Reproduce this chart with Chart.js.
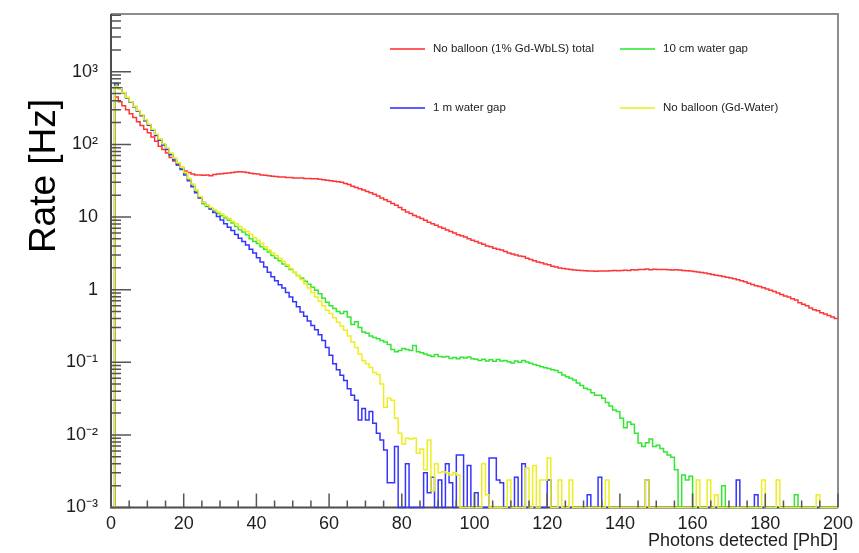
<!DOCTYPE html>
<html>
<head>
<meta charset="utf-8">
<script src="https://cdn.jsdelivr.net/npm/chart.js@4.4.1/dist/chart.umd.min.js"></script>
<style>
  html, body { margin: 0; padding: 0; background: #fff; }
  #wrap { width: 859px; height: 553px; position: relative; }
</style>
</head>
<body>
<div id="wrap"><canvas id="myChart"></canvas></div>
<script>
// Rate per 1 PhD bin, bins 0..199 (0 = empty bin)
const seriesNames = ['No balloon (1% Gd-WbLS) total', '10 cm water gap', '1 m water gap', 'No balloon (Gd-Water)'];

const noBalloonTotal = [
  0, 450, 385, 340, 300, 265, 235, 205, 182, 162,
  145, 126, 110, 94, 85, 76, 66, 59, 52, 48,
  43, 41, 39, 38, 38, 37.5, 38, 37, 38.5, 39,
  39.5, 40, 40.5, 41, 41.5, 42, 41.5, 41, 40, 39.5,
  39, 38, 37.5, 37, 36.5, 36, 35.5, 35.5, 35, 35,
  34.5, 34.5, 34.5, 34, 34, 33.5, 33.5, 33, 32.5, 32,
  31.5, 31, 30.5, 30, 29, 28, 26.5, 25.5, 24.5, 23.5,
  22.5, 21.5, 20.5, 19.5, 18.3, 17.3, 16.3, 15.4, 14.5, 13.5,
  12.6, 11.7, 11.2, 10.5, 10, 9.5, 9, 8.5, 8.1, 7.7,
  7.3, 7, 6.6, 6.3, 6, 5.7, 5.5, 5.3, 5, 4.8,
  4.6, 4.4, 4.2, 4, 3.9, 3.7, 3.6, 3.5, 3.35, 3.2,
  3.1, 3, 2.9, 2.85, 2.7, 2.6, 2.5, 2.4, 2.35, 2.25,
  2.2, 2.1, 2.05, 1.98, 1.95, 1.92, 1.9, 1.87, 1.85, 1.83,
  1.82, 1.8, 1.81, 1.79, 1.8, 1.81, 1.8, 1.82, 1.83, 1.82,
  1.84, 1.85, 1.83, 1.88, 1.87, 1.9, 1.89, 1.92, 1.88, 1.91,
  1.9, 1.89, 1.9, 1.88, 1.87, 1.88, 1.86, 1.83, 1.82, 1.8,
  1.78, 1.75, 1.72, 1.7, 1.66, 1.62, 1.58, 1.55, 1.52, 1.48,
  1.44, 1.41, 1.37, 1.33, 1.28, 1.22, 1.18, 1.13, 1.1, 1.06,
  1.02, 0.98, 0.94, 0.9, 0.86, 0.82, 0.79, 0.75, 0.72, 0.66,
  0.63, 0.6, 0.56, 0.53, 0.51, 0.48, 0.46, 0.44, 0.42, 0.4
];

const waterGap10cm = [
  0, 650, 585, 510, 437, 380, 331, 288, 251, 214,
  186, 158, 135, 117, 100, 87, 74, 63, 54, 47,
  40, 33, 27.5, 22.5, 18.5, 15.2, 14, 13, 12.1, 11.2,
  10.4, 9.7, 9, 8.3, 7.4, 6.7, 6.2, 5.7, 5, 4.6,
  4.3, 3.9, 3.6, 3.3, 2.95, 2.7, 2.5, 2.25, 2.1, 1.9,
  1.72, 1.57, 1.45, 1.3, 1.19, 1.08, 0.98, 0.88, 0.76, 0.67,
  0.6, 0.55, 0.5, 0.47, 0.5, 0.42, 0.33, 0.36, 0.3, 0.26,
  0.25, 0.23, 0.22, 0.21, 0.2, 0.19, 0.175, 0.15, 0.14, 0.145,
  0.155, 0.15, 0.145, 0.17, 0.14, 0.135, 0.13, 0.125, 0.12, 0.128,
  0.12, 0.118, 0.12, 0.113, 0.116, 0.112, 0.117, 0.114, 0.118, 0.112,
  0.11, 0.106, 0.11, 0.104, 0.108, 0.103, 0.109, 0.104, 0.106, 0.102,
  0.098, 0.104, 0.1, 0.106, 0.101, 0.097, 0.093, 0.09, 0.087, 0.084,
  0.082, 0.079, 0.077, 0.072, 0.067, 0.063, 0.06, 0.057, 0.052, 0.048,
  0.044, 0.042, 0.038, 0.035, 0.035, 0.032, 0.028, 0.025, 0.022, 0.021,
  0.017, 0.0125, 0.015, 0.014, 0.0105, 0.0077, 0.0069, 0.0078, 0.0088, 0.0069,
  0.0072, 0.0065, 0.0058, 0.0053, 0.0049, 0.0033, 0.0008, 0.0028, 0.0024, 0.0027,
  0.0008, 0, 0, 0, 0, 0, 0, 0, 0.002, 0,
  0, 0, 0, 0, 0, 0, 0, 0, 0, 0,
  0, 0, 0, 0, 0, 0, 0, 0, 0.0015, 0,
  0, 0, 0, 0, 0, 0, 0, 0, 0, 0
];

const waterGap1m = [
  0, 690, 600, 515, 440, 380, 330, 285, 248, 211,
  183, 156, 133, 114, 98, 85, 72, 61, 52, 45,
  38, 31.5, 26, 21.5, 18.2, 15.8, 14.4, 12.9, 11.5, 10.2,
  9.1, 8.1, 7.2, 6.5, 5.75, 5.1, 4.6, 4.1, 3.6, 3.2,
  2.75, 2.4, 2.05, 1.74, 1.5, 1.32, 1.17, 1.05, 0.91, 0.79,
  0.68, 0.58, 0.49, 0.43, 0.37, 0.32, 0.28, 0.24, 0.2, 0.16,
  0.125, 0.095, 0.079, 0.066, 0.056, 0.043, 0.035, 0.03, 0.016, 0.023,
  0.016, 0.021, 0.0145, 0.0105, 0.0085, 0.0062, 0.0022, 0.0022, 0.0069, 0.0008,
  0, 0.004, 0.0008, 0.0008, 0, 0, 0.003, 0.0016, 0.0026, 0,
  0.0024, 0, 0.004, 0.0022, 0, 0.0053, 0.0053, 0, 0.0038, 0,
  0.0016, 0, 0, 0, 0.0048, 0.0048, 0.0024, 0.0022, 0, 0,
  0, 0.0026, 0, 0.004, 0, 0, 0, 0, 0, 0,
  0.0024, 0, 0, 0, 0, 0, 0, 0, 0, 0,
  0, 0.0015, 0, 0, 0.0026, 0, 0, 0, 0, 0,
  0, 0, 0, 0, 0, 0, 0, 0.0024, 0, 0,
  0, 0, 0, 0, 0, 0, 0, 0, 0, 0,
  0, 0, 0, 0, 0, 0, 0, 0, 0, 0,
  0, 0, 0.0024, 0, 0, 0, 0, 0.0015, 0, 0,
  0, 0, 0, 0, 0, 0, 0, 0, 0, 0,
  0, 0, 0, 0, 0, 0, 0, 0, 0, 0
];

const noBalloonWater = [
  0, 630, 590, 520, 445, 385, 335, 292, 255, 218,
  190, 161, 138, 119, 102, 89, 76, 65, 56, 48.5,
  41, 34, 28.5, 23.5, 19.2, 15.8, 14.5, 13.5, 12.6, 11.7,
  11, 10.2, 9.5, 8.7, 8.1, 7.4, 6.8, 6.3, 5.8, 5.2,
  4.8, 4.3, 3.9, 3.5, 3.2, 2.95, 2.7, 2.45, 2.2, 1.95,
  1.74, 1.55, 1.38, 1.2, 1.05, 0.91, 0.79, 0.69, 0.6, 0.52,
  0.47, 0.41, 0.355, 0.316, 0.275, 0.23, 0.19, 0.16, 0.13, 0.105,
  0.095, 0.085, 0.072, 0.068, 0.05, 0.024, 0.032, 0.03, 0.017, 0.0105,
  0.0075, 0.009, 0.0088, 0.009, 0.0056, 0.0064, 0.0033, 0.0085, 0.0017, 0.004,
  0.003, 0.0031, 0.003, 0.0028, 0.003, 0.0028, 0, 0, 0, 0,
  0, 0, 0.004, 0.0015, 0, 0, 0, 0, 0, 0.0024,
  0, 0, 0, 0, 0.0035, 0, 0.0038, 0, 0.0024, 0.0024,
  0.0048, 0, 0, 0.0024, 0, 0, 0.0024, 0, 0, 0,
  0, 0, 0, 0, 0, 0, 0.0024, 0, 0, 0,
  0, 0, 0, 0, 0, 0, 0, 0.0024, 0, 0,
  0, 0, 0, 0, 0, 0, 0, 0, 0, 0,
  0, 0.0024, 0, 0, 0.0024, 0, 0.0015, 0, 0, 0,
  0, 0, 0, 0, 0, 0, 0, 0, 0, 0.0024,
  0, 0, 0, 0.0024, 0, 0, 0, 0, 0, 0,
  0, 0, 0, 0, 0.0015, 0, 0, 0, 0, 0
];

const xTickValues = [0, 20, 40, 60, 80, 100, 120, 140, 160, 180, 200];
const yTickValues = [1e-3, 1e-2, 1e-1, 1, 10, 100, 1000];
const yTickLabels = ['10\u207B\u00B3', '10\u207B\u00B2', '10\u207B\u00B9', '1', '10', '10\u00B2', '10\u00B3'];
const xTitle = 'Photons detected [PhD]';
const yTitle = 'Rate [Hz]';

const yMin = 1e-3;
const yMax = 6240;
const xMax = 200;

// histogram: each value holds from its bin edge to the next one
function toSteps(values) {
  const pts = values.map((v, i) => ({ x: i, y: v > yMin ? v : yMin }));
  pts.push({ x: values.length, y: pts[pts.length - 1].y });
  return pts;
}

const colors = ['#ff3535', '#33e633', '#3535ff', '#eeee1e'];
const allSeries = [noBalloonTotal, waterGap10cm, waterGap1m, noBalloonWater];

const datasets = allSeries.map((vals, i) => ({
  label: seriesNames[i],
  data: toSteps(vals),
  borderColor: colors[i],
  borderWidth: 1.5,
  pointRadius: 0,
  stepped: 'before',
  fill: false,
  order: 3 - i,
  clip: { left: 4, top: 0, right: 0, bottom: 3 }
}));

const FONT = '"Liberation Sans", Arial, Helvetica, sans-serif';

// ROOT-like frame, inside tick marks, y title and the legend box
const rootStyle = {
  id: 'rootStyle',
  beforeDatasetsDraw(chart) {
    const { ctx, chartArea: a } = chart;
    ctx.save();
    ctx.lineWidth = 2;
    ctx.strokeStyle = '#8c8c8c';
    ctx.beginPath();
    ctx.moveTo(a.left, a.top);
    ctx.lineTo(a.right, a.top);
    ctx.lineTo(a.right, a.bottom);
    ctx.stroke();
    ctx.strokeStyle = '#4d4d4d';
    ctx.beginPath();
    ctx.moveTo(a.left, a.top);
    ctx.lineTo(a.left, a.bottom);
    ctx.lineTo(a.right, a.bottom);
    ctx.stroke();
    ctx.restore();
  },
  afterDatasetsDraw(chart) {
    const { ctx, chartArea: a, scales } = chart;
    const x = scales.x, y = scales.y;
    ctx.save();
    ctx.strokeStyle = '#555';
    ctx.lineWidth = 1.5;
    ctx.beginPath();
    for (let v = 0; v <= xMax; v += 5) {
      const px = x.getPixelForValue(v);
      const len = v % 20 === 0 ? 14 : 7;
      ctx.moveTo(px, a.bottom);
      ctx.lineTo(px, a.bottom - len);
    }
    for (let e = -3; e <= 3; e++) {
      for (let m = 1; m <= 9; m++) {
        const v = m * Math.pow(10, e);
        if (v > yMax) break;
        const py = y.getPixelForValue(v);
        const len = m === 1 ? 20 : 10;
        ctx.moveTo(a.left, py);
        ctx.lineTo(a.left + len, py);
      }
    }
    ctx.stroke();
    ctx.restore();
  },
  afterDraw(chart) {
    const ctx = chart.ctx;
    ctx.save();
    // y axis title
    ctx.translate(55, 176);
    ctx.rotate(-Math.PI / 2);
    ctx.font = '37px ' + FONT;
    ctx.fillStyle = '#000';
    ctx.textAlign = 'center';
    ctx.textBaseline = 'alphabetic';
    ctx.fillText(yTitle, 0, 0);
    ctx.restore();

    // legend, two columns
    const slots = [[390, 49], [620, 49], [390, 108], [620, 108]];
    ctx.save();
    ctx.font = '11.5px ' + FONT;
    ctx.textBaseline = 'middle';
    ctx.textAlign = 'left';
    chart.data.datasets.forEach((ds, i) => {
      const [lx, ly] = slots[i];
      ctx.strokeStyle = ds.borderColor;
      ctx.globalAlpha = 0.8;
      ctx.lineWidth = 2;
      ctx.beginPath();
      ctx.moveTo(lx, ly);
      ctx.lineTo(lx + 35, ly);
      ctx.stroke();
      ctx.globalAlpha = 1;
      ctx.fillStyle = '#222';
      ctx.fillText(ds.label, lx + 43, ly);
    });
    ctx.restore();
  }
};

const ctx = document.getElementById('myChart');
new Chart(ctx, {
  type: 'line',
  data: { datasets },
  options: {
    responsive: true,
    maintainAspectRatio: false,
    animation: false,
    parsing: false,
    layout: { padding: { left: 0, top: 14, right: 21, bottom: 0 } },
    scales: {
      x: {
        type: 'linear',
        min: 0,
        max: xMax,
        afterBuildTicks: (scale) => { scale.ticks = xTickValues.map(v => ({ value: v })); },
        afterFit: (scale) => {
          scale.height = 45.5;
          scale.paddingLeft = 0;
          scale.paddingRight = 0;
        },
        grid: { display: false, drawTicks: false },
        border: { display: false },
        ticks: {
          autoSkip: false,
          maxRotation: 0,
          padding: 6,
          color: '#1e1e1e',
          font: { family: FONT, size: 18 }
        },
        title: {
          display: true,
          text: xTitle,
          align: 'end',
          color: '#1e1e1e',
          font: { family: FONT, size: 18 },
          padding: { top: 0, bottom: 1 }
        }
      },
      y: {
        type: 'logarithmic',
        min: yMin,
        max: yMax,
        afterBuildTicks: (scale) => { scale.ticks = yTickValues.map(v => ({ value: v })); },
        afterFit: (scale) => {
          scale.width = 111;
          scale.paddingTop = 0;
          scale.paddingBottom = 0;
        },
        grid: { display: false, drawTicks: false },
        border: { display: false },
        ticks: {
          autoSkip: false,
          padding: 13,
          color: '#1e1e1e',
          font: { family: FONT, size: 18 },
          callback: (value, index) => yTickLabels[index]
        }
      }
    },
    plugins: {
      legend: { display: false },
      tooltip: { enabled: false }
    }
  },
  plugins: [rootStyle]
});
</script>
</body>
</html>
